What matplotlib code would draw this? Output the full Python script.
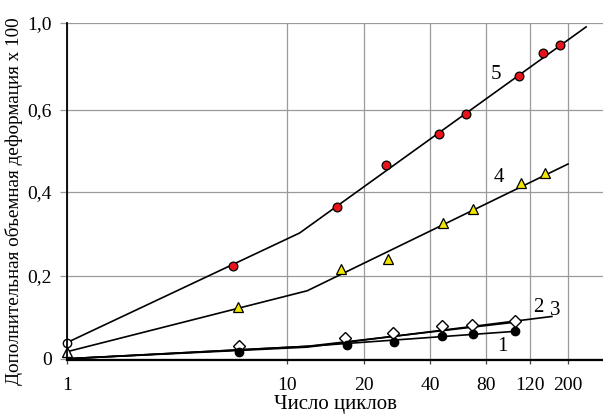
import matplotlib
matplotlib.use("Agg")
import matplotlib.pyplot as plt
import numpy as np
from matplotlib.ticker import FixedLocator, FixedFormatter

plt.rcParams['font.family'] = ['Liberation Serif', 'DejaVu Serif']

# ось X нарисована от руки: метки стоят не точно по логарифму
x_ticks = [1, 10, 20, 40, 80, 120, 200]
x_tick_labels = ['1', '10', '20', '40', '80', '120', '200']
x_knot_pos = [0, 220, 297, 363, 419, 463, 501]

y_ticks = [0, 0.2, 0.4, 0.6, 1.0]
y_tick_labels = ['0', '0,2', '0,4', '0,6', '1,0']
y_knot_pos = [0, 83, 167, 249, 336]

# кривая 5 (красные кружки)
n5 = [1, 5.7, 15.7, 25.2, 44.7, 62.4, 108, 143, 180]
e5 = [0.039, 0.224, 0.364, 0.466, 0.541, 0.590, 0.756, 0.862, 0.899]
fit5_x = [1, 11.2, 255]
fit5_y = [0.039, 0.302, 0.982]

# кривая 4 (жёлтые треугольники)
n4 = [1, 5.97, 16.3, 25.7, 46.8, 68.3, 110.4, 147.4]
e4 = [0.017, 0.125, 0.216, 0.241, 0.327, 0.360, 0.421, 0.447]
fit4_x = [1, 12.0, 200]
fit4_y = [0.017, 0.164, 0.468]

# кривая 2 (белые ромбы)
n2 = [6.07, 16.9, 27.0, 46.6, 67.4, 104.0]
e2 = [0.031, 0.049, 0.062, 0.080, 0.082, 0.092]
fit2_x = [1, 12.0, 104]
fit2_y = [0.0, 0.030, 0.088]

# кривая 3 (только линия)
fit3_x = [1, 12.0, 161]
fit3_y = [0.0, 0.028, 0.102]

# кривая 1 (чёрные кружки)
n1 = [6.07, 17.1, 27.3, 46.6, 67.8, 104.4]
e1 = [0.0165, 0.032, 0.041, 0.054, 0.059, 0.066]
fit1_x = [1, 12.0, 104]
fit1_y = [0.0, 0.030, 0.066]

curve_labels = ['5', '4', '2', '3', '1']
curve_label_x = [87.7, 90.2, 133.6, 168, 92.7]
curve_label_y = [0.761, 0.434, 0.123, 0.116, 0.030]


def piecewise(u, xs, ys):
    u = np.asarray(u, dtype=float)
    out = np.interp(u, xs, ys)
    lo_slope = (ys[1] - ys[0]) / (xs[1] - xs[0])
    hi_slope = (ys[-1] - ys[-2]) / (xs[-1] - xs[-2])
    out = np.where(u < xs[0], ys[0] + (u - xs[0]) * lo_slope, out)
    out = np.where(u > xs[-1], ys[-1] + (u - xs[-1]) * hi_slope, out)
    return out


lx = np.log10(x_ticks)


def x_fwd(x):
    return piecewise(np.log10(np.maximum(x, 1e-6)), lx, x_knot_pos)


def x_inv(p):
    return 10 ** piecewise(p, x_knot_pos, lx)


def y_fwd(y):
    return piecewise(y, y_ticks, y_knot_pos)


def y_inv(p):
    return piecewise(p, y_knot_pos, y_ticks)


fig = plt.figure(figsize=(6.03, 4.15), dpi=100)
ax = fig.add_axes([67 / 603, 55 / 415, 536 / 603, 337 / 415])
ax.set_xscale('function', functions=(x_fwd, x_inv))
ax.set_yscale('function', functions=(y_fwd, y_inv))
ax.set_xlim(1, 320)
ax.set_ylim(-0.003, 1.0)

ax.xaxis.set_major_locator(FixedLocator(x_ticks))
ax.xaxis.set_major_formatter(FixedFormatter(x_tick_labels))
ax.yaxis.set_major_locator(FixedLocator(y_ticks))
ax.yaxis.set_major_formatter(FixedFormatter(y_tick_labels))
ax.xaxis.set_minor_locator(FixedLocator([]))
ax.yaxis.set_minor_locator(FixedLocator([]))

ax.grid(True, color='#9a9a9a', lw=0.9)
ax.set_axisbelow(True)
for s in ['top', 'right']:
    ax.spines[s].set_visible(False)
ax.spines['left'].set_linewidth(1.3)
ax.spines['bottom'].set_linewidth(1.6)
ax.tick_params(axis='y', direction='out', length=5, width=0.9, color='#9a9a9a',
               labelsize=14, pad=6)
ax.tick_params(axis='x', direction='out', length=3, width=0.9, color='#444444',
               labelsize=14, pad=9)

lw = 1.2
ax.plot(fit5_x, fit5_y, color='black', lw=lw, clip_on=False)
ax.plot(fit4_x, fit4_y, color='black', lw=lw, clip_on=False)
ax.plot(fit3_x, fit3_y, color='black', lw=lw, clip_on=False)
ax.plot(fit2_x, fit2_y, color='black', lw=lw, clip_on=False)
ax.plot(fit1_x, fit1_y, color='black', lw=lw, clip_on=False)

ax.plot(n5[1:], e5[1:], 'o', ms=6.3, mfc='#e8141c', mec='black', mew=0.9, clip_on=False)
ax.plot(n5[:1], e5[:1], 'o', ms=6, mfc='white', mec='black', mew=1.0, clip_on=False)
ax.plot(n4[1:], e4[1:], '^', ms=7, mfc='#f2e600', mec='black', mew=0.9, clip_on=False)
ax.plot(n4[:1], e4[:1], '^', ms=7, mfc='white', mec='black', mew=1.0, clip_on=False)
ax.plot(n2, e2, 'D', ms=6, mfc='white', mec='black', mew=1.0, clip_on=False)
ax.plot(n1, e1, 'o', ms=6, mfc='black', mec='black', clip_on=False)

for t, xx, yy in zip(curve_labels, curve_label_x, curve_label_y):
    ax.text(xx, yy, t, fontsize=15, ha='center', va='center')

ax.set_xlabel('Число циклов', fontsize=15, labelpad=1)
ax.set_ylabel('Дополнительная объемная деформация x 100', fontsize=13.8)
ax.yaxis.set_label_coords(-0.083, 0.47)

fig.savefig('out.png', dpi=100)
